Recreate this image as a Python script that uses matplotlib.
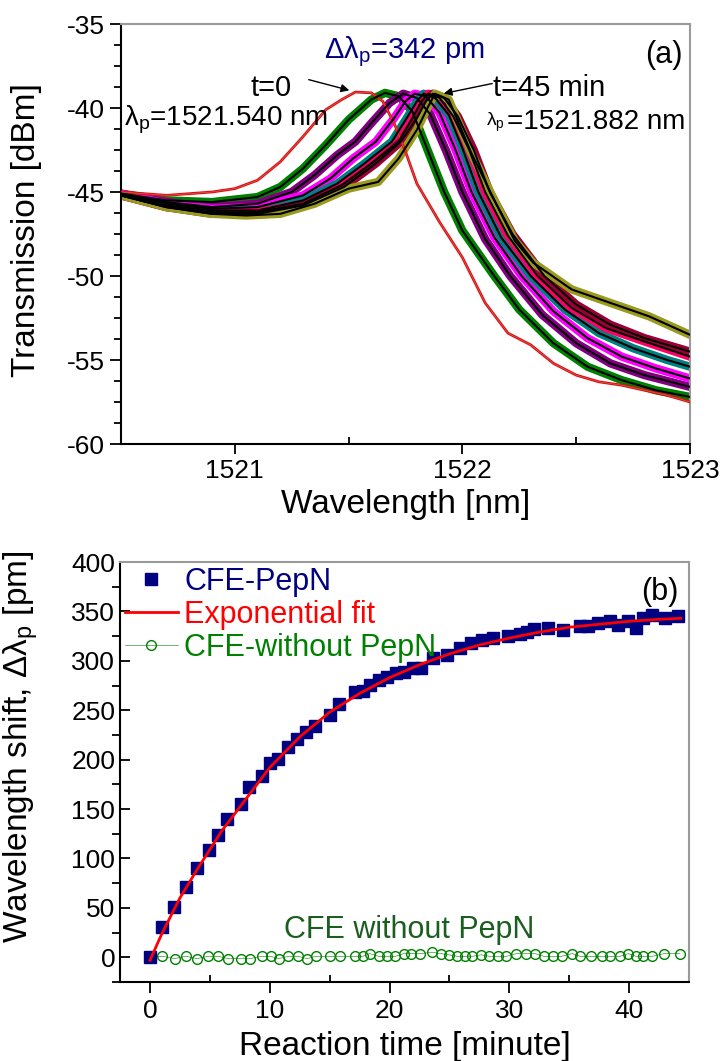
import matplotlib
matplotlib.use("Agg")
import matplotlib.pyplot as plt

plt.rcParams['font.family'] = ['Liberation Sans', 'DejaVu Sans']
plt.rcParams['mathtext.fontset'] = 'custom'
plt.rcParams['mathtext.rm'] = 'Liberation Sans'
plt.rcParams['mathtext.it'] = 'Liberation Sans:italic'
plt.rcParams['axes.unicode_minus'] = False

# ---- panel (a): spectra, wavelength [nm] vs transmission [dBm] ----
wl_red = [1520.5, 1520.7, 1520.9, 1521.0, 1521.1, 1521.2, 1521.3, 1521.4, 1521.47, 1521.53,
          1521.6, 1521.65, 1521.7, 1521.75, 1521.8, 1521.9, 1522.0, 1522.1, 1522.2, 1522.3,
          1522.4, 1522.5, 1522.6, 1522.7, 1522.8, 1522.9, 1523.0]
tr_red = [-45.0, -45.2, -45.0, -44.8, -44.3, -43.2, -41.7, -40.1, -39.5, -39.05,
          -39.1, -39.6, -40.9, -42.6, -44.5, -46.8, -48.9, -51.6, -53.4, -54.1,
          -55.2, -55.9, -56.3, -56.5, -56.8, -57.1, -57.5]

wl_green = [1520.5, 1520.7, 1520.9, 1521.1, 1521.2, 1521.3, 1521.4, 1521.5, 1521.6, 1521.66,
            1521.72, 1521.78, 1521.85, 1521.92, 1522.0, 1522.14, 1522.25, 1522.4, 1522.55,
            1522.7, 1522.85, 1523.0]
tr_green = [-45.1, -45.5, -45.6, -45.3, -44.7, -43.6, -42.2, -40.7, -39.5, -39.1,
            -39.3, -40.2, -42.6, -45.0, -47.3, -50.0, -52.0, -54.0, -55.4,
            -56.2, -56.8, -57.2]

wl_purple = [1520.5, 1520.7, 1520.9, 1521.1, 1521.25, 1521.35, 1521.45, 1521.53, 1521.6, 1521.68,
             1521.74, 1521.8, 1521.86, 1521.93, 1522.0, 1522.1, 1522.21, 1522.35, 1522.5,
             1522.65, 1522.8, 1523.0]
tr_purple = [-45.1, -45.6, -45.9, -45.7, -45.0, -44.0, -42.8, -42.0, -40.9, -39.7,
             -39.15, -39.4, -40.4, -42.6, -45.0, -47.8, -50.0, -52.3, -54.0,
             -55.2, -55.9, -56.6]

wl_magenta = [1520.5, 1520.7, 1520.9, 1521.1, 1521.3, 1521.42, 1521.52, 1521.62, 1521.7, 1521.75,
              1521.79, 1521.84, 1521.9, 1521.97, 1522.04, 1522.14, 1522.26, 1522.4, 1522.55,
              1522.7, 1522.85, 1523.0]
tr_magenta = [-45.1, -45.7, -46.0, -45.9, -45.2, -44.2, -43.0, -42.0, -40.6, -39.6,
              -39.15, -39.3, -40.3, -42.5, -45.0, -47.7, -50.0, -52.1, -53.7,
              -54.8, -55.5, -56.1]

wl_teal = [1520.5, 1520.7, 1520.9, 1521.1, 1521.3, 1521.45, 1521.57, 1521.69, 1521.76, 1521.8,
           1521.83, 1521.88, 1521.94, 1522.0, 1522.07, 1522.17, 1522.3, 1522.45, 1522.6,
           1522.75, 1522.9, 1523.0]
tr_teal = [-45.2, -45.8, -46.1, -46.1, -45.5, -44.5, -43.3, -42.0, -40.5, -39.6,
           -39.15, -39.4, -40.4, -42.4, -45.0, -47.7, -50.0, -52.0, -53.4,
           -54.3, -55.0, -55.4]

wl_pink = [1520.5, 1520.7, 1520.9, 1521.1, 1521.3, 1521.47, 1521.6, 1521.72, 1521.78, 1521.82,
           1521.85, 1521.9, 1521.96, 1522.03, 1522.1, 1522.2, 1522.33, 1522.48, 1522.63,
           1522.8, 1523.0]
tr_pink = [-45.2, -45.9, -46.2, -46.2, -45.7, -44.6, -43.3, -42.0, -40.6, -39.6,
           -39.15, -39.4, -40.5, -42.5, -45.0, -47.6, -50.0, -51.9, -53.1,
           -53.9, -54.8]

wl_wine = [1520.5, 1520.7, 1520.9, 1521.1, 1521.3, 1521.48, 1521.62, 1521.73, 1521.8, 1521.84,
           1521.87, 1521.92, 1521.98, 1522.05, 1522.12, 1522.22, 1522.36, 1522.5, 1522.65,
           1522.8, 1523.0]
tr_wine = [-45.2, -45.9, -46.3, -46.3, -45.8, -44.7, -43.3, -42.0, -40.6, -39.6,
           -39.15, -39.4, -40.5, -42.5, -45.0, -47.5, -50.0, -51.7, -52.9,
           -53.7, -54.5]

wl_olive = [1520.5, 1520.7, 1520.9, 1521.05, 1521.2, 1521.35, 1521.5, 1521.63, 1521.72, 1521.8,
            1521.85, 1521.88, 1521.94, 1521.99, 1522.04, 1522.13, 1522.23, 1522.31, 1522.48,
            1522.65, 1522.82, 1523.0]
tr_olive = [-45.2, -45.9, -46.3, -46.4, -46.3, -45.7, -44.8, -44.4, -43.0, -41.3,
            -39.9, -39.15, -39.5, -41.1, -42.7, -45.2, -47.9, -49.2, -50.8,
            -51.6, -52.4, -53.5]

# ---- panel (b): reaction time [min] vs wavelength shift [pm] ----
t_pepn = [0, 1.0, 2.0, 3.0, 3.95, 4.9, 5.65, 6.45, 7.6, 8.25, 9.35, 10.05, 10.7, 11.5, 12.3,
          13.05, 13.8, 15.0, 15.75, 17.15, 17.8, 18.4, 19.1, 19.8, 20.5, 21.2, 22.0, 22.6,
          23.6, 24.8, 25.9, 26.8, 27.7, 28.6, 29.9, 30.9, 31.5, 32.1, 33.2, 34.5, 35.9, 36.6,
          37.4, 38.4, 39.1, 39.9, 40.6, 41.2, 41.9, 43.0, 44.1]
shift_pepn = [0, 31, 51, 71, 90, 109, 124, 140, 155, 172, 183, 197, 201, 213, 221,
              228, 234, 245, 256, 268, 269, 276, 281, 284, 288, 289, 293, 293,
              303, 306, 313, 318, 321, 323, 325, 327, 329, 332, 333.5, 331, 335, 335,
              338, 340, 336.5, 340, 333.5, 343.6, 346.6, 343.6, 345]

t_fit = [0, 1, 2, 2.5, 3, 4, 5, 6, 7.5, 10, 12.5, 15, 17.5, 20, 22.5, 25, 27.5, 30,
         32.5, 35, 37.5, 40, 42.5, 44.3]
shift_fit = [-3, 24, 48, 60, 70, 90, 109, 128, 152, 192, 223, 248, 267, 283, 296, 307, 316, 323,
             329, 334, 337, 340, 342, 343]

t_ctrl = [0, 1.04, 2.07, 2.98, 3.95, 4.86, 5.68, 6.53, 7.62, 8.35, 9.35, 10.07, 10.76, 11.55,
          12.33, 13.12, 13.84, 15.0, 15.85, 17.1, 17.76, 18.36, 19.08, 19.8, 20.49, 21.18,
          21.81, 22.53, 23.56, 24.32, 24.95, 25.67, 26.29, 26.92, 27.64, 28.33, 29.06, 29.75,
          30.59, 31.41, 32.16, 32.88, 33.67, 34.36, 35.24, 35.93, 36.8, 37.75, 38.44, 39.25,
          39.94, 40.57, 41.2, 41.92, 42.93, 44.24]
shift_ctrl = [1, 1, -1.3, 1, -1.3, 1, 1, -1.3, -1.3, -1.3, 1, 1, -1.3, 1,
              1, -1.3, 1, 1, 1, 1, 1, 3.7, 1, 1, 1, 3.7,
              3.7, 3.7, 5, 3.7, 2.5, 1, 1, 1, 2.5, 1, 1, 1,
              3.7, 3.7, 3.7, 1, 1, 1, 3.7, 1, 1, 1, 1, 1,
              3.7, 1, 1, 1, 3.7, 3.7]

fig = plt.figure(figsize=(7.23, 10.61), dpi=100)
ax1 = fig.add_axes([121 / 723, 1 - 444 / 1061, 569 / 723, 420 / 1061])
ax2 = fig.add_axes([120 / 723, 1 - 982 / 1061, 569 / 723, 420 / 1061])

# 1. spectra (noisy traces + black fits)
ax1.plot(wl_red, tr_red, color='red', lw=2, zorder=3)
ax1.plot(wl_red, tr_red, color='#808080', lw=0.5, zorder=3)
noisy = [(wl_green, tr_green, '#008000'), (wl_purple, tr_purple, '#800080'),
         (wl_magenta, tr_magenta, '#ff00ff'), (wl_teal, tr_teal, '#008080'),
         (wl_pink, tr_pink, '#ff0066'), (wl_wine, tr_wine, '#990033'),
         (wl_olive, tr_olive, '#9a9a1e')]
for wl, tr, c in noisy:
    ax1.plot(wl, tr, color=c, lw=6, solid_joinstyle='round', zorder=2)
for wl, tr, c in noisy:
    ax1.plot(wl, tr, color='black', lw=1.5, zorder=4)

ax1.set_xlim(1520.5, 1523)
ax1.set_ylim(-60, -35)
ax1.set_xticks([1521, 1522, 1523])
ax1.set_xticks([1521.5, 1522.5], minor=True)
ax1.set_yticks([-60, -55, -50, -45, -40, -35])
ax1.set_yticks([-60 + 1.25 * i for i in range(21)], minor=True)
ax1.tick_params(axis='x', which='major', direction='out', length=7, width=1.3, labelsize=19, pad=4)
ax1.tick_params(axis='x', which='minor', direction='in', length=5, width=1.3)
ax1.tick_params(axis='y', which='major', direction='out', length=8, width=1.3, labelsize=19)
ax1.tick_params(axis='y', which='minor', direction='out', length=5, width=1.3)
ax1.set_xlabel('Wavelength [nm]', fontsize=24, labelpad=4)
ax1.set_ylabel('Transmission [dBm]', fontsize=24)
ax1.yaxis.set_label_coords(-0.139, 0.51)

ax1.text(1521.743, -36.67, 'Δλ$_\\mathregular{p}$=342 pm', color='#000080', fontsize=21,
         ha='center', va='center')
ax1.text(1522.886, -36.85, '(a)', fontsize=22, ha='center', va='center')
ax1.text(1521.159, -38.81, 't=0', fontsize=21, ha='center', va='center')
ax1.text(1522.135, -38.81, 't=45 min', fontsize=21, ha='left', va='center')
ax1.text(1520.515, -40.71, 'λ$_\\mathregular{p}$=1521.540 nm', fontsize=20, ha='left', va='center')
lam_end = ax1.text(1522.978, -40.83, '=1521.882 nm', fontsize=20, ha='right', va='center')
ax1.annotate('λ$_\\mathregular{p}$', xy=(0, 0.5), xycoords=lam_end, xytext=(-1, 0),
             textcoords='offset points', fontsize=14, ha='right', va='center')
ax1.annotate('', xy=(1521.515, -38.99), xytext=(1521.313, -38.27),
             arrowprops=dict(arrowstyle='-|>', color='black', lw=1, mutation_scale=12))
ax1.annotate('', xy=(1521.906, -39.17), xytext=(1522.143, -38.51),
             arrowprops=dict(arrowstyle='-|>', color='black', lw=1, mutation_scale=12))

# 2. kinetics
ax2.plot(t_ctrl, shift_ctrl, color='#008000', lw=0.4, marker='o', ms=7, mfc='none',
         mec='#008000', mew=1, label='CFE-without PepN', zorder=2)
ax2.plot(t_pepn, shift_pepn, ls='none', marker='s', ms=8.5, color='#000080',
         label='CFE-PepN', zorder=3)
ax2.plot(t_fit, shift_fit, color='red', lw=2, label='Exponential fit', zorder=4)

h, l = ax2.get_legend_handles_labels()
order = [1, 2, 0]
leg = ax2.legend([h[i] for i in order], [l[i] for i in order], loc='upper left',
                 bbox_to_anchor=(0.0, 1.0), frameon=False, fontsize=22, handlelength=1.75,
                 handletextpad=0.2, labelspacing=0.1, borderaxespad=0.0, borderpad=0.15,
                 numpoints=1)
for txt, c in zip(leg.get_texts(), ['#000080', 'red', '#008000']):
    txt.set_color(c)

ax2.text(21.6, 28, 'CFE without PepN', color='#1b5e20', fontsize=22, ha='center', va='center')
ax2.text(42.6, 370, '(b)', fontsize=22, ha='center', va='center')

ax2.set_xlim(-2.5, 45)
ax2.set_ylim(-25, 400)
ax2.set_xticks([0, 10, 20, 30, 40])
ax2.set_xticks([5, 15, 25, 35], minor=True)
ax2.set_yticks(range(0, 401, 50))
ax2.set_yticks(range(-25, 400, 50), minor=True)
ax2.tick_params(axis='x', which='major', direction='out', length=8, width=1.3, labelsize=19, pad=4)
ax2.tick_params(axis='x', which='minor', direction='in', length=5, width=1.3)
ax2.tick_params(axis='y', which='major', direction='in', length=7, width=1.3, labelsize=19)
ax2.tick_params(axis='y', which='minor', direction='out', length=6, width=1.3)
ax2.set_xlabel('Reaction time [minute]', fontsize=24, labelpad=6)
ax2.set_ylabel('Wavelength shift, Δλ$_\\mathregular{p}$ [pm]', fontsize=24)
ax2.yaxis.set_label_coords(-0.141, 0.56)

for ax in (ax1, ax2):
    ax.spines['left'].set_linewidth(1.5)
    ax.spines['bottom'].set_linewidth(1.5)
    ax.spines['top'].set_color('#9a9a9a')
    ax.spines['right'].set_color('#9a9a9a')
    ax.spines['top'].set_linewidth(1.5)
    ax.spines['right'].set_linewidth(1.5)

fig.savefig('out.png', dpi=100)
